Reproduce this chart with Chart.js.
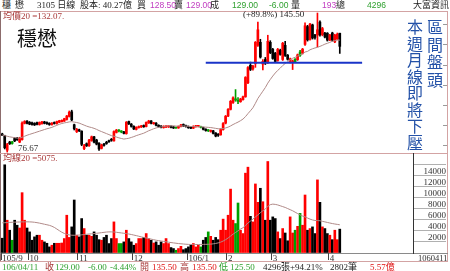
<!DOCTYPE html>
<html lang="zh-Hant">
<head>
<meta charset="UTF-8">
<title>穩懋 3105 日線</title>
<script src="https://cdn.jsdelivr.net/npm/chart.js"></script>
<style>
  html, body { margin: 0; padding: 0; background: #fff; }
  body {
    width: 450px; height: 271px; position: relative; overflow: hidden;
    font-family: "Liberation Serif", "Noto Sans CJK TC", serif;
  }
  canvas { position: absolute; left: 0; }
  #price { top: 11px; }
  #volume { top: 153px; }
  .t { position: absolute; white-space: nowrap; font-size: 9px; line-height: 10px; color: #222; }
  .s { font-family: "Liberation Sans", "Noto Sans CJK TC", sans-serif; font-size: 8.5px; }
  .pu { color: #c03cc0; }
  .gr { color: #2fa02f; }
  .rd { color: #e01010; }
  .br { color: #a83838; }
  .ln { position: absolute; }
  .vt {
    position: absolute; writing-mode: vertical-rl; color: #2452a8;
    font-family: "Noto Sans CJK TC", sans-serif; line-height: 1;
  }
</style>
</head>
<body>

<!-- panel frames -->
<div class="ln" style="left:0;top:11px;width:448px;height:1px;background:#d3a3a3"></div>
<div class="ln" style="left:0;top:11px;width:1px;height:251px;background:#8c6c6c"></div>
<div class="ln" style="left:447px;top:11px;width:1px;height:251px;background:#d3a3a3"></div>
<div class="ln" style="left:0;top:153px;width:448px;height:1px;background:#d3a3a3"></div>
<div class="ln" style="left:0;top:253px;width:448px;height:1px;background:#8a8a8a"></div>
<div class="ln" style="left:0;top:261px;width:448px;height:1px;background:#d3a3a3"></div>

<canvas id="price" width="450" height="142"></canvas>
<canvas id="volume" width="450" height="109"></canvas>

<!-- header row -->
<span class="t" style="left:2px;top:0">穩</span>
<span class="t" style="left:15px;top:0">懋</span>
<span class="t" style="left:37px;top:0">3105 日線</span>
<span class="t" style="left:80px;top:0">股本: 40.27億</span>
<span class="t" style="left:137px;top:0">買</span>
<span class="t s pu" style="left:150px;top:0">128.50</span>
<span class="t" style="left:174px;top:0">賣</span>
<span class="t s pu" style="left:186px;top:0">129.00</span>
<span class="t" style="left:210px;top:0">成</span>
<span class="t s gr" style="left:232px;top:0">129.00</span>
<span class="t s gr" style="left:269px;top:0">-6.00</span>
<span class="t" style="left:291px;top:0">量</span>
<span class="t s pu" style="left:322px;top:0">193</span>
<span class="t" style="left:336px;top:0">總</span>
<span class="t s gr" style="left:367px;top:0">4296</span>
<span class="t" style="left:413px;top:0">大富資訊</span>

<!-- price panel text -->
<span class="t br" style="left:3px;top:11px">均價20 =132.07.</span>
<span class="t" style="left:17px;top:27px;font-size:20px;line-height:22px;font-family:'Noto Sans CJK TC',sans-serif;color:#111">穩懋</span>
<span class="t" style="left:243px;top:9px">(+89.8%) 145.50</span>
<span class="t" style="left:18px;top:143px;color:#333">76.67</span>
<div class="vt" style="left:427px;top:19px;font-size:16px;letter-spacing:1.5px">區間盤頭</div>
<div class="vt" style="left:407px;top:19px;font-size:16px;letter-spacing:0.5px">本週月線即將下壓</div>

<!-- volume panel text -->
<span class="t br" style="left:3px;top:153px">均線20 =5075.</span>
<span class="t" style="left:418px;top:253px;font-size:8.5px;color:#333">1060411</span>

<!-- footer row -->
<span class="t gr" style="left:2px;top:262px">106/04/11</span>
<span class="t br" style="left:45px;top:262px">收</span>
<span class="t gr" style="left:55px;top:262px">129.00</span>
<span class="t gr" style="left:88px;top:262px">-6.00</span>
<span class="t gr" style="left:110px;top:262px">-4.44%</span>
<span class="t br" style="left:140px;top:262px">開</span>
<span class="t rd" style="left:152px;top:262px">135.50</span>
<span class="t br" style="left:180px;top:262px">高</span>
<span class="t rd" style="left:192px;top:262px">135.50</span>
<span class="t gr" style="left:219px;top:262px">低</span>
<span class="t gr" style="left:230px;top:262px">125.50</span>
<span class="t" style="left:263px;top:262px">4296張+94.21%</span>
<span class="t" style="left:330px;top:262px">2802筆</span>
<span class="t rd" style="left:370px;top:262px">5.57億</span>

<script>
    // 日K資料 105/9 ~ 106/4/11
    const opens = [85.6,84.8,77.6,81.6,80.9,83.4,83.6,81.6,82.8,90.9,92.0,91.4,91.1,90.9,91.2,90.3,90.7,91.6,91.3,90.9,
        90.3,91.3,90.8,91.4,91.7,92.0,92.8,94.3,96.6,90.2,86.8,87.6,87.0,78.4,80.8,79.8,82.4,84.2,82.6,81.0,
        78.5,80.6,81.5,82.2,83.0,82.2,86.4,87.3,86.9,86.6,85.8,91.8,90.5,89.4,87.9,88.8,89.1,89.8,89.3,91.1,
        92.1,90.7,91.0,89.9,89.5,88.8,89.1,89.2,89.5,89.1,88.6,88.6,89.4,90.3,89.8,89.4,89.0,88.5,89.2,89.4,
        89.2,88.8,88.0,87.2,86.9,87.2,86.1,85.3,85.2,87.8,91.0,94.5,97.8,101.2,103.0,102.2,101.6,102.6,104.0,111.0,
        119.6,117.8,120.4,129.5,131.0,120.2,122.5,121.0,131.0,127.5,125.6,122.0,127.0,122.5,129.5,124.6,121.6,121.2,121.4,122.4,
        124.5,125.6,130.0,138.8,132.4,139.6,134.6,134.6,141.0,134.8,135.5,135.5,132.1,135.6,131.2,132.6,135.5];
    const highs = [86.0,85.0,81.0,82.0,82.0,83.8,84.0,84.0,91.6,92.2,92.3,91.8,91.5,91.2,91.5,91.6,91.9,91.9,91.6,91.2,
        91.2,91.6,92.0,92.4,92.6,93.4,94.8,97.0,97.4,90.5,88.4,88.0,87.2,80.5,81.2,83.0,84.6,84.5,83.0,81.3,
        80.6,81.0,82.0,82.6,83.4,87.2,87.9,87.8,87.3,86.9,91.8,92.0,90.8,89.7,89.2,89.6,89.9,90.1,91.6,92.4,
        92.3,91.4,91.2,90.2,89.8,89.7,89.8,89.7,89.7,89.3,88.9,89.6,90.4,90.6,90.0,89.6,89.2,89.7,89.9,89.8,
        89.5,89.0,88.2,87.8,87.6,87.4,86.3,85.8,88.2,91.2,94.8,98.2,102.2,104.0,107.6,103.6,103.3,104.4,114.0,119.0,
        121.2,119.6,131.4,141.0,132.5,122.4,123.5,134.5,131.8,128.0,126.0,128.0,127.6,131.0,131.5,125.0,123.2,122.2,123.0,125.2,
        127.0,128.0,140.6,139.4,140.4,140.0,135.0,145.5,141.6,138.4,136.0,135.8,135.0,136.0,135.0,135.6,135.5];
    const lows = [84.8,78.2,76.67,80.4,80.6,81.8,82.4,81.3,82.5,90.6,90.6,90.2,90.0,89.8,90.1,90.0,90.5,90.6,90.4,89.9,
        90.0,90.5,90.5,91.2,91.5,91.8,92.5,94.0,92.2,87.6,86.3,86.8,79.8,77.8,79.4,79.5,82.0,81.2,80.2,77.5,
        78.2,79.6,80.5,81.4,82.0,82.0,86.1,86.6,86.2,85.6,85.5,90.3,89.0,87.8,87.6,88.5,88.8,88.9,89.1,90.8,
        90.6,90.4,89.6,89.0,88.6,88.5,88.8,88.8,88.6,88.3,88.4,88.4,89.1,89.3,89.0,88.4,88.2,88.3,89.0,89.1,
        88.6,87.6,87.0,86.8,86.5,85.6,84.2,84.4,85.0,87.5,90.6,94.2,97.5,100.8,101.8,100.6,101.3,102.3,103.8,110.5,
        117.0,117.2,118.6,129.0,123.2,117.3,120.0,120.5,125.4,122.6,121.0,121.6,124.6,122.0,124.0,122.2,120.8,117.5,121.0,122.0,
        124.0,125.2,129.5,131.6,132.0,132.6,132.5,128.7,134.0,134.2,133.2,131.6,131.8,131.6,130.8,132.2,125.5];
    const closes = [85.0,78.8,80.4,80.8,81.7,82.2,82.8,83.4,91.0,91.8,90.9,90.5,90.3,90.1,90.4,91.3,91.6,90.9,90.7,90.3,
        91.0,90.8,91.8,92.2,92.4,93.2,94.5,96.4,92.6,88.2,87.9,87.2,80.5,79.8,79.8,82.6,84.2,81.6,80.6,78.2,
        80.2,80.0,80.9,81.8,82.5,86.8,87.5,87.1,86.6,85.9,91.4,90.6,89.4,88.1,88.9,89.3,89.6,89.2,91.3,92.0,
        90.9,91.1,89.9,89.3,88.9,89.4,89.6,89.5,88.9,88.6,88.7,89.4,90.1,89.6,89.3,88.7,88.5,89.4,89.6,89.6,
        88.9,87.9,87.3,87.5,87.3,85.9,84.6,85.0,87.8,90.8,94.4,97.8,101.8,103.5,102.4,101.8,102.9,104.0,113.6,118.5,
        117.6,119.2,131.0,137.2,123.7,121.6,120.8,131.5,125.9,123.0,121.5,127.5,125.0,130.5,124.5,122.6,122.8,121.8,122.6,124.8,
        126.2,127.6,139.2,132.2,140.0,133.1,133.4,137.2,134.6,137.8,133.6,132.1,134.6,132.1,134.6,135.0,129.0];
    // 平盤/綠色K棒
    const greenDays = [4, 47, 48, 70, 80, 83, 94, 95, 118, 120];
    const volumes = [2660,15880,5900,4100,2300,5900,5000,4500,10860,5900,4500,3800,2300,2900,3200,3200,2300,2000,1750,1100,
        1400,1750,1750,1750,1800,2600,6800,2800,4700,9540,3200,2900,6200,4400,3200,3200,3000,3800,3200,2400,
        2300,2800,3200,1700,2600,5600,2600,1700,1700,2000,4100,2600,2000,1400,1700,2600,2600,2800,3500,2600,
        2300,1800,2000,1400,2000,1700,2600,1700,980,800,500,800,1200,600,800,1100,1400,1700,1100,1400,
        1100,2300,2800,3800,3000,2300,2800,2400,4100,6100,4100,6800,11500,5900,5300,9000,4100,3500,14370,15450,
        6600,5600,12430,9120,11650,9230,5900,16470,5900,6500,6200,3800,2600,4400,3600,2200,6500,3600,4100,4800,
        7130,5000,10440,4100,4400,4700,3500,13160,9120,4700,4400,3500,3200,2400,4100,2400,4296];
    const priceMA20 = [85.1,84.8,84.5,84.2,84.0,83.8,83.6,83.6,84.0,84.5,85.0,85.4,85.8,86.2,86.6,87.0,87.4,87.8,88.2,88.5,
        88.9,89.4,89.9,90.4,90.8,91.1,91.3,91.6,91.7,91.5,91.3,91.0,90.5,90.0,89.5,89.1,88.8,88.4,87.9,87.3,
        86.8,86.3,85.8,85.3,84.8,84.5,84.1,83.7,83.4,83.1,83.3,83.5,83.9,84.3,84.8,85.2,85.6,86.0,86.6,87.2,
        87.7,88.2,88.6,88.9,89.1,89.3,89.5,89.6,89.6,89.7,89.5,89.5,89.6,89.6,89.5,89.4,89.3,89.3,89.3,89.2,
        89.2,89.1,89.0,88.9,88.8,88.6,88.4,88.2,88.2,88.3,88.6,89.0,89.6,90.3,90.9,91.5,92.2,93.0,94.2,95.7,
        97.1,98.6,100.8,103.2,105.0,106.8,108.6,110.8,112.6,114.3,115.8,117.1,118.2,119.5,120.5,121.4,122.3,123.1,123.6,124.2,
        124.8,125.3,126.2,126.5,127.3,127.8,128.2,128.5,129.0,129.5,130.1,130.5,131.0,131.5,131.8,132.2,132.07];
    const volumeMA20 = [5430,5450,5480,5500,5530,5550,5570,5580,5600,5610,5610,5600,5580,5530,5460,5380,5280,5180,5080,4980,
        4820,4600,4320,4020,3740,3520,3360,3260,3200,3190,3200,3230,3270,3320,3370,3420,3460,3500,3550,3600,
        3660,3720,3770,3800,3800,3780,3730,3670,3610,3550,3500,3420,3330,3230,3130,3020,2900,2800,2700,2600,
        2500,2400,2300,2230,2160,2090,2020,1950,1880,1820,1760,1700,1660,1620,1580,1550,1530,1520,1520,1530,
        1540,1550,1560,1570,1600,1650,1720,1820,1950,2150,2400,2700,3050,3400,3700,4000,4300,4550,4950,5400,
        5750,6100,6500,6850,7250,7600,7900,8400,8700,8800,8750,8650,8500,8350,8200,8000,7800,7600,7350,7100,
        6850,6650,6500,6300,6100,5950,5850,5850,5800,5700,5600,5500,5400,5300,5220,5150,5075];
    // 月份刻度
    const monthTicks = ['105/9', '10', '11', '12', '106/1', '2', '3', '4'];
    const monthStart = [0, 11, 31, 53, 75, 91, 109, 132];
    const priceTicks = [80, 90, 100, 110, 120, 130, 140];
    const volumeTicks = [2000, 4000, 6000, 8000, 10000, 12000, 14000];
    // 藍色頸線
    const supportPrice = 120.9;
    const supportFrom = 82, supportTo = 145;

    const SLOTS = 166; // 右邊留白
    const labels = [];
    for (let i = 0; i < SLOTS; i++) {
        const k = monthStart.indexOf(i);
        labels.push(k >= 0 ? monthTicks[k] : '');
    }
    const barColors = closes.map((c, i) => {
        if (greenDays.includes(i)) return '#00a000';
        return c >= opens[i] ? '#ff0000' : '#000000';
    });
    const supportData = labels.map((_, i) => (i >= supportFrom && i <= supportTo) ? supportPrice : null);
    const FONT = { family: 'Liberation Serif', size: 9 };

    // 價格面板右側的小刻度
    const edgeTicks = {
        id: 'edgeTicks',
        afterDraw(chart) {
            const ctx = chart.ctx, y = chart.scales.y;
            ctx.save();
            ctx.strokeStyle = '#9a9a9a';
            ctx.lineWidth = 1;
            priceTicks.forEach(v => {
                const py = Math.round(y.getPixelForValue(v)) + 0.5;
                ctx.beginPath();
                ctx.moveTo(443, py);
                ctx.lineTo(447, py);
                ctx.stroke();
            });
            ctx.restore();
        }
    };

    new Chart(document.getElementById('price'), {
        type: 'bar',
        data: {
            labels: labels,
            datasets: [
                { type: 'line', data: supportData, borderColor: '#1a34c8', borderWidth: 2, pointRadius: 0, order: 0 },
                { type: 'line', data: priceMA20, borderColor: '#b08a88', borderWidth: 1, pointRadius: 0, order: 1 },
                { data: opens.map((o, i) => [o, closes[i]]), backgroundColor: barColors, barThickness: 2,
                  minBarLength: 1, grouped: false, order: 2 },
                { data: lows.map((l, i) => [l, highs[i]]), backgroundColor: barColors, barThickness: 1,
                  grouped: false, order: 3 }
            ]
        },
        options: {
            responsive: false,
            animation: false,
            events: [],
            layout: { padding: { left: 1, right: 37, top: 0, bottom: 0 } },
            plugins: { legend: { display: false }, tooltip: { enabled: false } },
            scales: {
                x: { display: false },
                y: { display: false, min: 76.2, max: 146.5 }
            }
        },
        plugins: [edgeTicks]
    });

    new Chart(document.getElementById('volume'), {
        type: 'bar',
        data: {
            labels: labels,
            datasets: [
                { type: 'line', data: volumeMA20, borderColor: '#b08a88', borderWidth: 1, pointRadius: 0, order: 0 },
                { data: volumes, backgroundColor: barColors, barThickness: 2, order: 1 }
            ]
        },
        options: {
            responsive: false,
            animation: false,
            events: [],
            layout: { padding: { left: 1, right: 4, top: 0, bottom: 0 } },
            plugins: { legend: { display: false }, tooltip: { enabled: false } },
            scales: {
                x: {
                    afterFit: s => { s.height = 9; },
                    border: { display: false },
                    grid: {
                        drawOnChartArea: false,
                        tickLength: 7,
                        color: c => labels[c.index] ? '#444' : 'rgba(0,0,0,0)'
                    },
                    ticks: { autoSkip: false, maxRotation: 0, align: 'start', padding: -7, font: FONT, color: '#333' }
                },
                y: {
                    position: 'right',
                    min: 0,
                    max: 18000,
                    afterFit: s => { s.width = 33; },
                    border: { display: true, color: '#333', width: 1 },
                    grid: {
                        drawOnChartArea: false,
                        tickLength: 33,
                        color: c => (c.tick && c.tick.value > 0 && c.tick.value < 18000) ? '#b0b0b0' : 'rgba(0,0,0,0)'
                    },
                    ticks: {
                        stepSize: 2000,
                        autoSkip: false,
                        crossAlign: 'far',
                        padding: -25,
                        labelOffset: -4,
                        font: FONT,
                        color: '#333',
                        callback: v => volumeTicks.includes(v) ? v : ''
                    }
                }
            }
        }
    });
</script>
</body>
</html>
